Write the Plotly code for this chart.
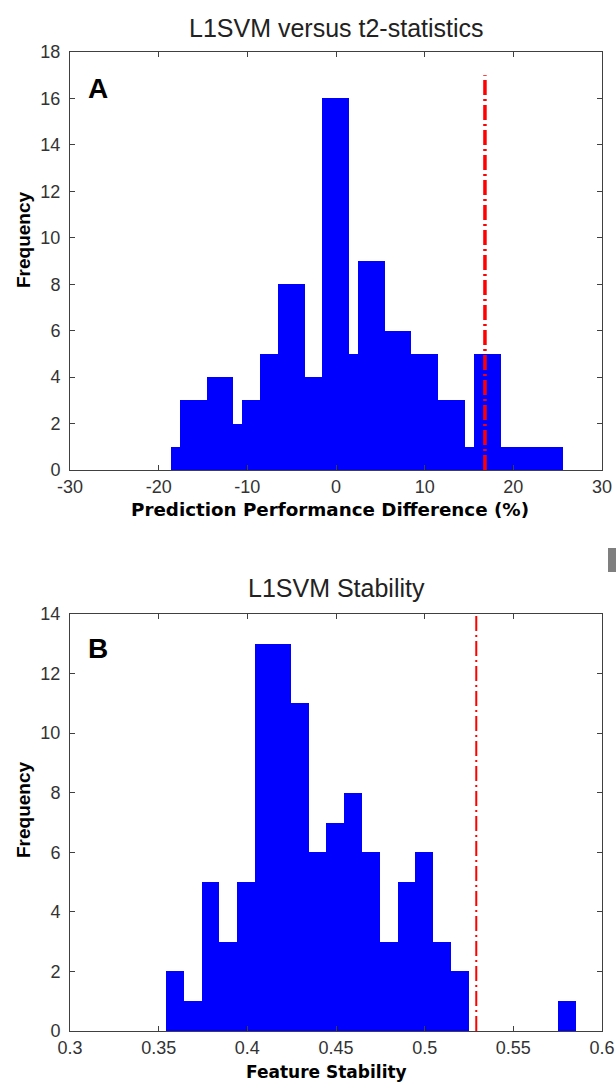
import plotly.graph_objects as go

# ---------------- data ----------------
# Panel A: prediction performance difference histogram (per-bin counts)
a_bin_start = -18.61
a_bin_width = 1.0045
a_counts = [1, 3, 3, 3, 4, 4, 4, 2, 3, 3, 5, 5, 8, 8, 8, 4, 4, 16, 16, 16, 5,
            9, 9, 9, 6, 6, 6, 5, 5, 5, 3, 3, 3, 1, 5, 5, 5, 1, 1, 1, 1, 1, 1, 1]
a_threshold = 16.8
a_threshold_top = 17

# Panel B: feature stability histogram (per-bin counts)
b_bin_start = 0.3541
b_bin_width = 0.01005
b_counts = [2, 1, 5, 3, 5, 13, 13, 11, 6, 7, 8, 6, 3, 5, 6, 3, 2, 0, 0, 0, 0, 0, 1]
b_threshold = 0.5291
b_threshold_top = 14

a_xticks = [-30, -20, -10, 0, 10, 20, 30]
a_xticklabels = ["-30", "-20", "-10", "0", "10", "20", "30"]
a_yticks = [0, 2, 4, 6, 8, 10, 12, 14, 16, 18]
b_xticks = [0.3, 0.35, 0.4, 0.45, 0.5, 0.55, 0.6]
b_xticklabels = ["0.3", "0.35", "0.4", "0.45", "0.5", "0.55", "0.6"]
b_yticks = [0, 2, 4, 6, 8, 10, 12, 14]

titles = ["L1SVM versus t2-statistics", "L1SVM Stability"]
xlabels = ["Prediction Performance Difference (%)", "Feature Stability"]
ylabel = "Frequency"
panel_letters = ["A", "B"]

# ---------------- layout helpers ----------------
W, H = 616, 1084


def px(x):
    return x / W


def py(y):
    return 1 - y / H


a_centers = [a_bin_start + (i + 0.5) * a_bin_width for i in range(len(a_counts))]
b_centers = [b_bin_start + (i + 0.5) * b_bin_width for i in range(len(b_counts))]

BLUE = "#0000ff"
RED = "#ff0000"
AXC = "#404040"
TICKFONT = dict(family="Liberation Sans, Arial, sans-serif", size=18, color="#333333")

fig = go.Figure()

fig.add_trace(go.Bar(x=a_centers, y=a_counts, width=a_bin_width,
                     marker=dict(color=BLUE, line=dict(width=0)),
                     xaxis="x", yaxis="y", showlegend=False, hoverinfo="skip"))
fig.add_trace(go.Scatter(x=[a_threshold, a_threshold], y=[0, a_threshold_top],
                         mode="lines", line=dict(color=RED, width=3.5, dash="15px,4px,2px,4px"),
                         xaxis="x", yaxis="y", showlegend=False, hoverinfo="skip"))

fig.add_trace(go.Bar(x=b_centers, y=b_counts, width=b_bin_width,
                     marker=dict(color=BLUE, line=dict(width=0)),
                     xaxis="x2", yaxis="y2", showlegend=False, hoverinfo="skip"))
fig.add_trace(go.Scatter(x=[b_threshold, b_threshold], y=[0, b_threshold_top],
                         mode="lines", line=dict(color=RED, width=2, dash="15px,4px,2px,4px"),
                         xaxis="x2", yaxis="y2", showlegend=False, hoverinfo="skip"))

axis_common = dict(showline=True, linecolor=AXC, linewidth=1, mirror="allticks",
                   ticks="inside", ticklen=5, tickcolor=AXC, tickwidth=1,
                   showgrid=False, zeroline=False, tickfont=TICKFONT, fixedrange=True,
                   automargin=False)

fig.update_layout(
    template="none",
    width=W, height=H,
    margin=dict(l=0, r=0, t=0, b=0, pad=0),
    paper_bgcolor="white", plot_bgcolor="white",
    bargap=0,
    xaxis=dict(domain=[px(70), px(602)], range=[-30, 30], tickvals=a_xticks,
               ticktext=a_xticklabels, anchor="y", ticklabelstandoff=0, **axis_common),
    yaxis=dict(domain=[py(470), py(52)], range=[0, 18], tickvals=a_yticks,
               anchor="x", ticklabelstandoff=5, **axis_common),
    xaxis2=dict(domain=[px(70), px(602)], range=[0.3, 0.6], tickvals=b_xticks,
                ticktext=b_xticklabels, anchor="y2", ticklabelstandoff=0, **axis_common),
    yaxis2=dict(domain=[py(1031), py(614)], range=[0, 14], tickvals=b_yticks,
                anchor="x2", ticklabelstandoff=5, **axis_common),
)

ann = []
title_font = dict(family="Liberation Sans, Arial, sans-serif", size=25, color="#222222")
for t, yc in zip(titles, [28, 588]):
    ann.append(dict(text=t, x=px(336), y=py(yc), xref="paper", yref="paper",
                    xanchor="center", yanchor="middle", showarrow=False, font=title_font))

letter_font = dict(family="Liberation Sans, Arial, sans-serif", size=28, color="black")
for t, yc in zip(panel_letters, [88, 648]):
    ann.append(dict(text="<b>" + t + "</b>", x=px(86), y=py(yc), xref="paper", yref="paper",
                    xanchor="left", yanchor="middle", showarrow=False, font=letter_font))

for t, xc, yc, fs in zip(xlabels, [330, 326], [510, 1072], [18.3, 17]):
    ann.append(dict(text="<b>" + t + "</b>", x=px(xc), y=py(yc), xref="paper", yref="paper",
                    xanchor="center", yanchor="middle", showarrow=False,
                    font=dict(family="DejaVu Sans, sans-serif", size=fs, color="black")))

ylabel_font = dict(family="Liberation Sans, Arial, sans-serif", size=19, color="black")
for yc in [240, 810]:
    ann.append(dict(text="<b>" + ylabel + "</b>", x=px(23), y=py(yc), xref="paper", yref="paper",
                    xanchor="center", yanchor="middle", textangle=-90, showarrow=False,
                    font=ylabel_font))

fig.update_layout(annotations=ann)

# small grey artefact at the right edge of the original image
fig.add_shape(type="rect", xref="paper", yref="paper",
              x0=px(608), x1=px(616), y0=py(572), y1=py(548),
              fillcolor="#7f7f7f", line=dict(width=0), layer="above")

fig.write_html(
    "out.html",
    config={"displayModeBar": False, "staticPlot": True},
    post_script="document.body.style.margin='0';document.body.style.overflow='hidden';",
)
